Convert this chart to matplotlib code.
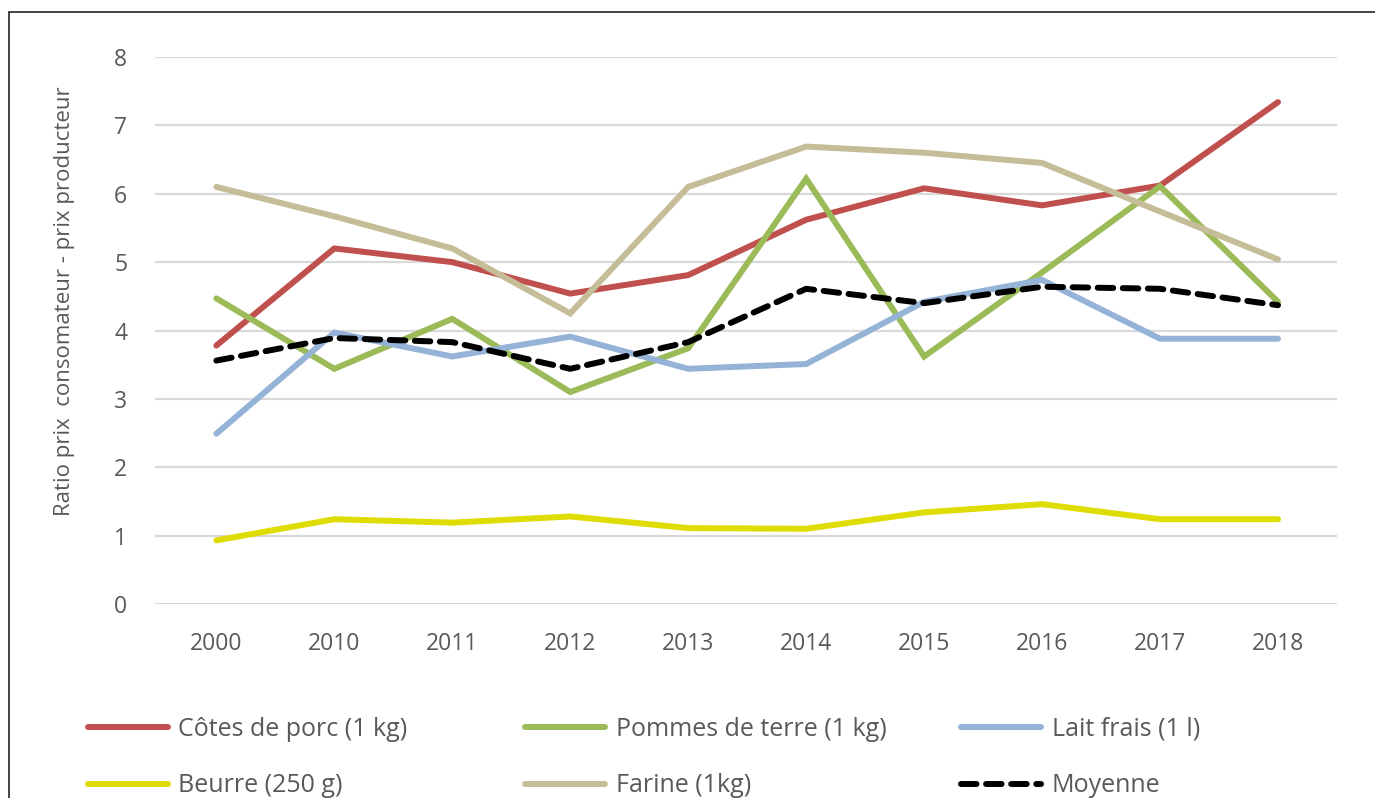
#! /usr/bin/env python

# ratio prix consommateur / prix producteur, par produit
import matplotlib
matplotlib.use('agg')
import matplotlib.pyplot as plt
from matplotlib.patches import Rectangle

plt.rc('font', family=['Open Sans', 'DejaVu Sans'])

years = ['2000', '2010', '2011', '2012', '2013', '2014', '2015', '2016', '2017', '2018']

porc = [3.78, 5.20, 5.00, 4.54, 4.81, 5.62, 6.08, 5.83, 6.12, 7.34]
pommes = [4.47, 3.44, 4.17, 3.10, 3.74, 6.22, 3.62, 4.85, 6.11, 4.42]
lait = [2.49, 3.97, 3.62, 3.91, 3.44, 3.51, 4.42, 4.74, 3.88, 3.88]
beurre = [0.93, 1.24, 1.19, 1.28, 1.11, 1.10, 1.34, 1.46, 1.24, 1.24]
farine = [6.10, 5.67, 5.20, 4.25, 6.10, 6.69, 6.60, 6.45, 5.74, 5.04]
moyenne = [3.56, 3.89, 3.83, 3.44, 3.83, 4.61, 4.40, 4.64, 4.61, 4.37]

series = [
    ('Côtes de porc (1 kg)', porc, '#C0504D', '-'),
    ('Beurre (250 g)', beurre, '#DEDC00', '-'),
    ('Pommes de terre (1 kg)', pommes, '#9BBB59', '-'),
    ('Farine (1kg)', farine, '#C4BD97', '-'),
    ('Lait frais (1 l)', lait, '#95B3D7', '-'),
    ('Moyenne', moyenne, 'black', '--'),
]

fig = plt.figure(figsize=(13.75, 7.98), dpi=100)
ax = fig.add_axes([155 / 1375, 1 - 604 / 798, 1182 / 1375, 547 / 798])

x = range(len(years))
handles = []
for label, vals, col, ls in series:
    if ls == '--':
        ln, = ax.plot(x, vals, color=col, lw=4.3, dashes=(2.6, 1.6),
                      dash_capstyle='round', label=label, zorder=4)
    else:
        ln, = ax.plot(x, vals, color=col, lw=4.3, solid_capstyle='round',
                      solid_joinstyle='miter', label=label, zorder=3)
    handles.append(ln)

ax.set_xlim(-0.52, 9.5)
ax.set_ylim(0, 8)
ax.set_yticks(range(0, 9))
ax.set_xticks(list(x))
ax.set_xticklabels(years)
ax.yaxis.grid(True, color='#D9D9D9', lw=1.6)
ax.set_axisbelow(True)
for s in ax.spines.values():
    s.set_visible(False)
ax.tick_params(length=0, labelsize=16.5, labelcolor='#595959')
ax.tick_params(axis='y', pad=20)
ax.tick_params(axis='x', pad=20)
ax.set_ylabel('Ratio prix  consomateur - prix producteur', fontsize=16,
              color='#595959')
ax.yaxis.set_label_coords(-0.068, 0.554)

# legende : trois colonnes placees a la main
col_x = [88 / 1375, 525 / 1375, 961 / 1375]
for i, cx in enumerate(col_x):
    leg = fig.legend(handles=handles[2 * i:2 * i + 2], loc='upper left',
                     bbox_to_anchor=(cx, 1 - 717 / 798), frameon=False,
                     fontsize=18, handlelength=3.2, handletextpad=0.42,
                     labelspacing=1.25, borderaxespad=0, borderpad=0)
    for t in leg.get_texts():
        t.set_color('#595959')

fig.patches.append(Rectangle((9 / 1375, -0.1), 1.2, 1.1 - 12 / 798,
                             transform=fig.transFigure, fill=False,
                             edgecolor='#222222', lw=1.2))

plt.savefig('out.png', dpi=100)
